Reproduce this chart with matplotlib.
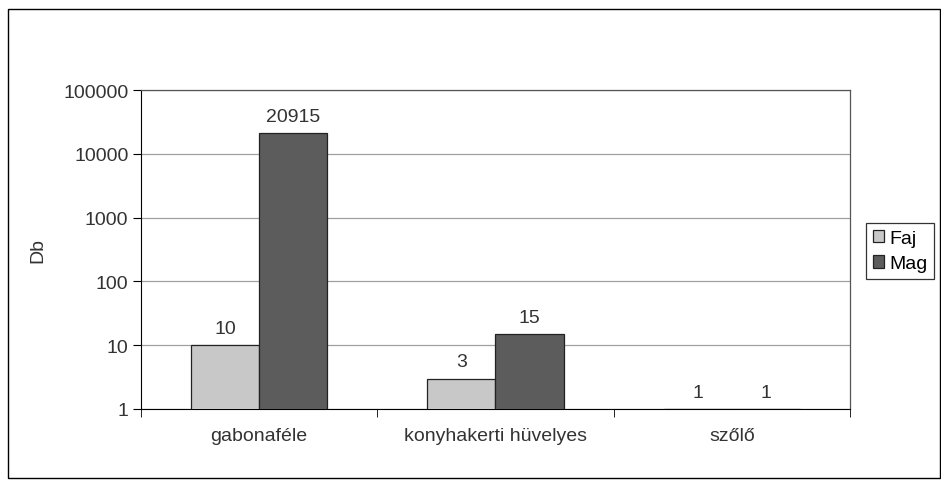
import matplotlib
matplotlib.use("Agg")
import matplotlib.pyplot as plt
from matplotlib.patches import Rectangle
import numpy as np

categories = ["gabonaféle", "konyhakerti hüvelyes", "szőlő"]
faj = [10, 3, 1]
mag = [20915, 15, 1]
series_names = ["Faj", "Mag"]
yticks = [1, 10, 100, 1000, 10000, 100000]

plt.rcParams['font.family'] = ['Liberation Sans', 'DejaVu Sans']
FS = 14
TC = '#333333'
fig = plt.figure(figsize=(9.41, 4.85), dpi=100)
ax = fig.add_axes([141/941, 1-410/485, (850-141)/941, (410-91)/485])

x = np.arange(len(categories))
w = 0.288
b1 = ax.bar(x - w/2, faj, w, bottom=0, color="#c8c8c8", edgecolor="#222222", linewidth=0.9, label=series_names[0], zorder=3)
b2 = ax.bar(x + w/2, mag, w, bottom=0, color="#5c5c5c", edgecolor="#222222", linewidth=0.9, label=series_names[1], zorder=3)
ax.set_yscale('log')
ax.set_ylim(1, 100000)
ax.set_xlim(-0.5, len(categories) - 0.5)
ax.set_yticks(yticks)
ax.set_yticklabels([str(v) for v in yticks])
ax.yaxis.set_minor_locator(matplotlib.ticker.NullLocator())
ax.set_xticks(x)
ax.set_xticklabels(categories)
ax.tick_params(axis='x', length=0, pad=13, labelsize=FS, labelcolor=TC)
ax.set_xticks(np.arange(len(categories) + 1) - 0.5, minor=True)
ax.tick_params(axis='x', which='minor', length=6, direction='out', color='black')
ax.tick_params(axis='y', length=6, direction='out', labelsize=FS, color='black', labelcolor=TC, pad=3)
ax.grid(axis='y', color='#a0a0a0', linewidth=0.9, zorder=0)
for s in ['top', 'right']:
    ax.spines[s].set_color('#555555')
    ax.spines[s].set_linewidth(0.9)
ax.spines['left'].set_color('black')
ax.spines['bottom'].set_color('black')
ax.set_ylabel("Db", fontsize=FS, color=TC, labelpad=12)

for rects, vals in [(b1, faj), (b2, mag)]:
    for r, v in zip(rects, vals):
        ax.annotate(str(v), (r.get_x() + r.get_width()/2, v), xytext=(0, 6),
                    textcoords='offset points', ha='center', va='bottom',
                    fontsize=FS, color=TC)

leg = ax.legend(loc='center left', bbox_to_anchor=(866/941, 1-252/485), bbox_transform=fig.transFigure,
                frameon=True, fancybox=False, edgecolor='black', fontsize=FS,
                handlelength=0.6, handleheight=0.6, handletextpad=0.25, borderpad=0.35,
                labelspacing=0.45, borderaxespad=0)
leg.get_frame().set_linewidth(0.9)

fig.patches.append(Rectangle((8/941, 1-479/485), (940-8)/941, (479-10)/485, transform=fig.transFigure,
                             fill=False, edgecolor='black', linewidth=1.0))
fig.savefig("out.png", dpi=100)
